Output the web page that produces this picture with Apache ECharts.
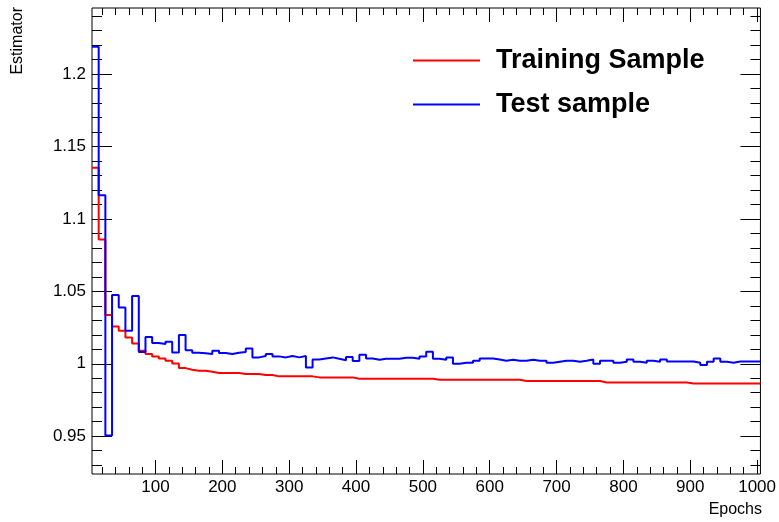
<!DOCTYPE html>
<html>
<head>
<meta charset="utf-8">
<script src="https://cdn.jsdelivr.net/npm/echarts@6/dist/echarts.min.js"></script>
<style>
html,body{margin:0;padding:0;background:#fff;}
#chart{width:779px;height:522px;}
</style>
</head>
<body>
<div id="chart"></div>
<script>
// Histogram binning (epochs): 100 bins of width 10 starting at epoch 5
const binLow = 5;
const binWidth = 10;

const seriesNames = ['Training Sample', 'Test sample'];

// Estimator per bin (training sample)
const trainEstimator = [
  1.1354, 1.0858, 1.0336, 1.0257, 1.0228, 1.0182, 1.0140, 1.0090, 1.0067, 1.0051,
  1.0037, 1.0021, 1.0002, 0.9970, 0.9959, 0.9952, 0.9952, 0.9945, 0.9936, 0.9936,
  0.9936, 0.9936, 0.9929, 0.9929, 0.9929, 0.9922, 0.9922, 0.9913, 0.9913, 0.9913,
  0.9913, 0.9913, 0.9913, 0.9906, 0.9906, 0.9906, 0.9906, 0.9906, 0.9906, 0.9897,
  0.9897, 0.9897, 0.9897, 0.9897, 0.9897, 0.9897, 0.9897, 0.9897, 0.9897, 0.9897,
  0.9897, 0.9890, 0.9890, 0.9890, 0.9890, 0.9890, 0.9890, 0.9890, 0.9890, 0.9890,
  0.9890, 0.9890, 0.9890, 0.9890, 0.9881, 0.9881, 0.9881, 0.9881, 0.9881, 0.9881,
  0.9881, 0.9881, 0.9881, 0.9881, 0.9881, 0.9881, 0.9871, 0.9871, 0.9871, 0.9871,
  0.9871, 0.9871, 0.9871, 0.9871, 0.9871, 0.9871, 0.9871, 0.9871, 0.9871, 0.9864,
  0.9864, 0.9864, 0.9864, 0.9864, 0.9864, 0.9864, 0.9864, 0.9864, 0.9864, 0.9864
];

// Estimator per bin (test sample)
const testEstimator = [
  1.2188, 1.1163, 0.9505, 1.0474, 1.0388, 1.0228, 1.0467, 1.0081, 1.0184, 1.0143,
  1.0136, 1.0152, 1.0078, 1.0198, 1.0094, 1.0076, 1.0072, 1.0067, 1.0090, 1.0074,
  1.0067, 1.0076, 1.0081, 1.0106, 1.0044, 1.0053, 1.0067, 1.0051, 1.0044, 1.0053,
  1.0044, 1.0053, 0.9975, 1.0030, 1.0037, 1.0044, 1.0034, 1.0025, 1.0046, 1.0019,
  1.0062, 1.0037, 1.0028, 1.0034, 1.0034, 1.0034, 1.0041, 1.0041, 1.0034, 1.0051,
  1.0083, 1.0034, 1.0028, 1.0044, 1.0000, 1.0007, 1.0007, 1.0021, 1.0037, 1.0037,
  1.0030, 1.0021, 1.0028, 1.0021, 1.0021, 1.0028, 1.0021, 1.0021, 1.0007, 1.0014,
  1.0021, 1.0021, 1.0014, 1.0021, 1.0030, 1.0000, 1.0021, 1.0021, 1.0007, 1.0014,
  1.0030, 1.0014, 1.0007, 1.0021, 1.0014, 1.0030, 1.0016, 1.0016, 1.0016, 1.0016,
  1.0007, 0.9991, 1.0014, 1.0037, 1.0014, 1.0007, 1.0016, 1.0016, 1.0016, 1.0016
];

// Tick labels
const xMajorTicks = [100, 200, 300, 400, 500, 600, 700, 800, 900, 1000];
const yMajorTicks = [0.95, 1.0, 1.05, 1.1, 1.15, 1.2];
const xMinorStep = 20;
const yMinorStep = 0.01;

const xMin = 5, xMax = 1005;
const yMin = 0.9239, yMax = 1.2456;

const FONT = "'Liberation Sans', Arial, Helvetica, sans-serif";

function toSteps(values) {
  const pts = values.map((v, i) => [binLow + i * binWidth, v]);
  pts.push([binLow + values.length * binWidth, values[values.length - 1]]);
  return pts;
}
function range(a, b, step) {
  const out = [];
  for (let v = a; v <= b + step * 1e-6; v += step) out.push(+v.toFixed(6));
  return out;
}
const xMinorTicks = range(20, 1000, xMinorStep);
const yMinorTicks = range(0.93, 1.24, yMinorStep);

function xAxisDef(pos, ticks, len, labels) {
  return {
    type: 'value', min: xMin, max: xMax, position: pos,
    axisLine: { show: false },
    splitLine: { show: false },
    axisTick: { show: true, inside: true, length: len, customValues: ticks, lineStyle: { color: '#000', width: 1 } },
    axisLabel: labels ? { show: true, customValues: ticks, color: '#000', fontSize: 17, fontFamily: FONT, margin: 5,
      formatter: v => String(Math.round(+v)) } : { show: false }
  };
}
function yAxisDef(pos, ticks, len, labels) {
  return {
    type: 'value', min: yMin, max: yMax, position: pos,
    axisLine: { show: false },
    splitLine: { show: false },
    axisTick: { show: true, inside: true, length: len, customValues: ticks, lineStyle: { color: '#000', width: 1 } },
    axisLabel: labels ? {
      show: true, customValues: ticks, color: '#000', fontSize: 17, fontFamily: FONT, margin: 6,
      formatter: v => String(+(+v).toFixed(2))
    } : { show: false }
  };
}

const chart = echarts.init(document.getElementById('chart'), null, { renderer: 'canvas' });
chart.setOption({
  animation: false,
  backgroundColor: '#fff',
  grid: { left: 92, right: 17, top: 8, bottom: 48, show: true, borderColor: '#000', borderWidth: 1, backgroundColor: 'transparent' },
  xAxis: [
    xAxisDef('bottom', xMajorTicks, 14, true),
    xAxisDef('bottom', xMinorTicks, 7, false),
    xAxisDef('top', xMajorTicks, 14, false),
    xAxisDef('top', xMinorTicks, 7, false)
  ],
  yAxis: [
    yAxisDef('left', yMajorTicks, 20, true),
    yAxisDef('left', yMinorTicks, 10, false),
    yAxisDef('right', yMajorTicks, 20, false),
    yAxisDef('right', yMinorTicks, 10, false)
  ],
  legend: {
    orient: 'vertical', left: 408, top: 42,
    itemWidth: 67, itemHeight: 2, itemGap: 17,
    icon: 'rect', selectedMode: false,
    textStyle: { fontSize: 27, fontWeight: 'bold', fontFamily: FONT, color: '#000', lineHeight: 26, padding: [0, 0, 0, 11] },
    data: seriesNames
  },
  graphic: [
    { type: 'text', right: 17, top: 502, style: { text: 'Epochs', fontSize: 16, fontFamily: FONT, fill: '#000' } },
    { type: 'text', x: 18, y: 7, rotation: Math.PI / 2,
      style: { text: 'Estimator', fontSize: 16, fontFamily: FONT, fill: '#000', textAlign: 'right', textVerticalAlign: 'middle' } }
  ],
  series: [
    { name: seriesNames[0], type: 'line', step: 'end', showSymbol: false, symbol: 'none',
      xAxisIndex: 0, yAxisIndex: 0, color: '#ff0000',
      lineStyle: { color: '#ff0000', width: 2 }, data: toSteps(trainEstimator) },
    { name: seriesNames[1], type: 'line', step: 'end', showSymbol: false, symbol: 'none',
      xAxisIndex: 0, yAxisIndex: 0, color: '#0000ff',
      lineStyle: { color: '#0000ff', width: 2 }, data: toSteps(testEstimator) }
  ]
});
</script>
</body>
</html>
